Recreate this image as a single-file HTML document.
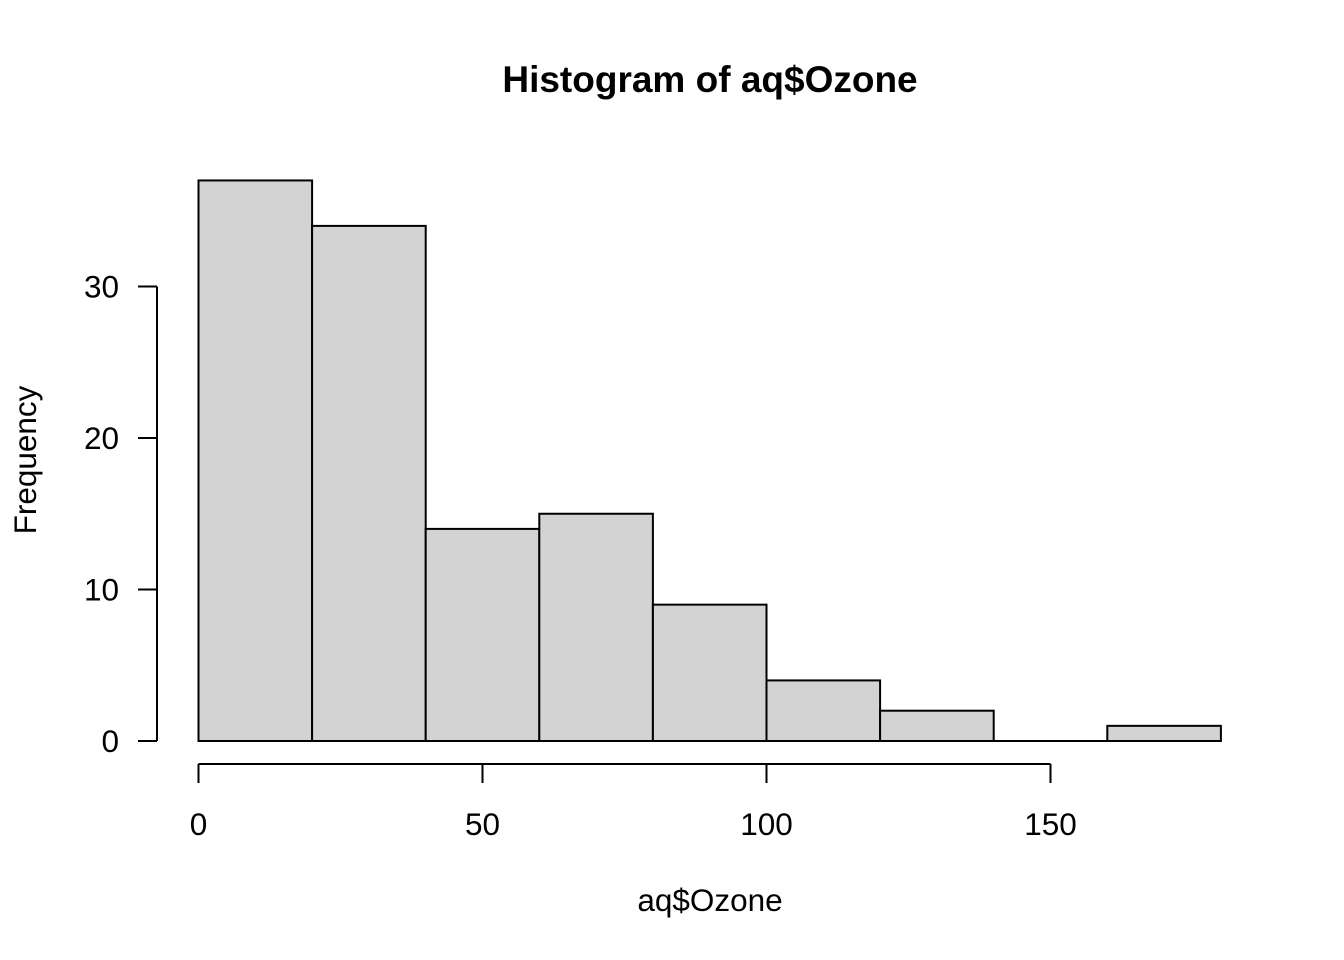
<!DOCTYPE html>
<html><head><meta charset="utf-8"><style>
html,body{margin:0;padding:0;background:#fff;}
svg{display:block;font-family:"Liberation Sans",Arial,sans-serif;}
</style></head><body>
<svg id="chart" width="1344" height="960" viewBox="0 0 1344 960">
<text x="710" y="92" text-anchor="middle" font-size="37" font-weight="bold">Histogram of aq$Ozone</text>
<text x="710" y="911" text-anchor="middle" font-size="31.5">aq$Ozone</text>
<text transform="translate(36,460) rotate(-90)" text-anchor="middle" font-size="31.5">Frequency</text>
<g id="bars"></g>
<g id="axes"></g>
</svg>
<script>
const binEdges = [0,20,40,60,80,100,120,140,160,180];
const counts = [37,34,14,15,9,4,2,0,1];
const xTicks = [0,50,100,150];
const yTicks = [0,10,20,30];
const NS='http://www.w3.org/2000/svg';
function sx(v){return 198.5+v*(1050.5-198.5)/150;}
function sy(v){return 741-v*(741-286.5)/30;}
function mk(tag,attrs,parent,txt){const e=document.createElementNS(NS,tag);for(const k in attrs)e.setAttribute(k,attrs[k]);if(txt!==undefined)e.textContent=txt;parent.appendChild(e);return e;}
const bars=document.getElementById('bars');
counts.forEach((c,i)=>{
  const x0=sx(binEdges[i]),x1=sx(binEdges[i+1]);
  if(c===0){
    const l=mk('line',{x1:x0,x2:x1,y1:sy(0),y2:sy(0),stroke:'#000','stroke-width':2},bars);
    
    
    return;
  }
  const r=mk('rect',{x:x0,y:sy(c),width:x1-x0,height:sy(0)-sy(c),fill:'#d3d3d3',stroke:'#000','stroke-width':2},bars);
  
  
});
const axes=document.getElementById('axes');
const xl=mk('line',{x1:sx(xTicks[0]),x2:sx(xTicks[xTicks.length-1]),y1:764,y2:764,stroke:'#000','stroke-width':2},axes);


xTicks.forEach(t=>{
  const l=mk('line',{x1:sx(t),x2:sx(t),y1:764,y2:783,stroke:'#000','stroke-width':2},axes);
  
  
  const tx=mk('text',{x:sx(t),y:835,'text-anchor':'middle','font-size':31.5},axes,String(t));
  
  
});
const yl=mk('line',{x1:157,x2:157,y1:sy(yTicks[yTicks.length-1]),y2:sy(yTicks[0]),stroke:'#000','stroke-width':2},axes);


yTicks.forEach(t=>{
  const l=mk('line',{x1:138,x2:157,y1:sy(t),y2:sy(t),stroke:'#000','stroke-width':2},axes);
  
  
  const tx=mk('text',{x:119,y:sy(t)+11,'text-anchor':'end','font-size':31.5},axes,String(t));
  
  
});
</script>
</body></html>
